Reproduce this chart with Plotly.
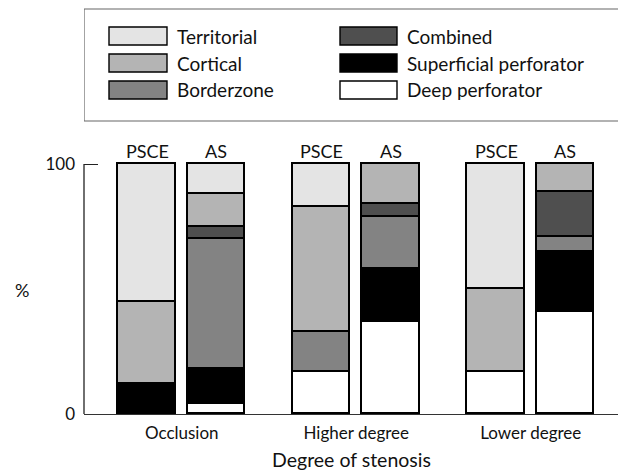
import plotly.graph_objects as go

groups = ["Occlusion", "Higher degree", "Lower degree"]
sources = ["PSCE", "AS"]
categories = ["Deep perforator", "Superficial perforator", "Borderzone", "Combined", "Cortical", "Territorial"]
# values per category, order: Occl PSCE, Occl AS, Higher PSCE, Higher AS, Lower PSCE, Lower AS
deep_perforator = [0, 4, 17, 37, 17, 41]
superficial_perforator = [12, 14, 0, 21, 0, 24]
borderzone = [0, 52, 16, 21, 0, 6]
combined = [0, 5, 0, 5, 0, 18]
cortical = [33, 13, 50, 16, 33, 11]
territorial = [55, 12, 17, 0, 50, 0]
series = [deep_perforator, superficial_perforator, borderzone, combined, cortical, territorial]
colors = ["#ffffff", "#000000", "#838383", "#4f4f4f", "#b4b4b4", "#e4e4e4"]
y_ticks = [0, 100]

FONT = "Lato"
W, H = 618, 471
L, R, T, B = 84, 0, 0, 57
# pixel helpers (layout only)
XPX = 174.5
X0 = 181.75
def px2x(px):
    return (px - X0) / XPX
def py2y(py):
    return (414 - py) / 2.5
def py2paper(py):
    return (414 - py) / 414.0

offset = 0.199
positions = []
for gi, g in enumerate(groups):
    for si, s in enumerate(sources):
        positions.append(gi + (-offset if si == 0 else offset))

fig = go.Figure()
for name, vals, col in zip(categories, series, colors):
    fig.add_trace(go.Bar(
        x=positions, y=vals, name=name, width=0.332,
        marker=dict(color=col, line=dict(color="#000000", width=1.6)),
        showlegend=False, hoverinfo="skip",
    ))

shapes = []
annotations = []
# y-axis bracket line
shapes.append(dict(type="line", xref="paper", yref="y", x0=0, x1=0, y0=0, y1=100,
                   line=dict(color="#222", width=1.3)))
# source labels
for i, p in enumerate(positions):
    annotations.append(dict(x=p, y=py2paper(151), xref="x", yref="paper", text=sources[i % 2],
                            xanchor="center", yanchor="middle",
                            showarrow=False, font=dict(size=18, color="#111", family=FONT)))
# % label
annotations.append(dict(x=(22 - L) / (W - L - R), y=py2paper(290), xref="paper", yref="paper", text="%",
                        xanchor="center", yanchor="middle",
                        showarrow=False, font=dict(size=18, color="#111", family=FONT)))
# x title
annotations.append(dict(x=0.5, y=py2paper(459), xref="paper", yref="paper", text="Degree of stenosis",
                        xanchor="center", yanchor="middle",
                        showarrow=False, font=dict(size=19.5, color="#111", family=FONT)))
# legend box
shapes.append(dict(type="rect", xref="x", yref="y", x0=px2x(84), x1=px2x(640),
                   y0=py2y(9), y1=py2y(121), line=dict(color="#666", width=1.2),
                   fillcolor="rgba(0,0,0,0)"))
legend_order = ["Territorial", "Cortical", "Borderzone", "Combined", "Superficial perforator", "Deep perforator"]
for k, name in enumerate(legend_order):
    col = colors[categories.index(name)]
    colx = 0 if k < 3 else 1
    row = k % 3
    sx0 = 109 if colx == 0 else 340
    sx1 = 167 if colx == 0 else 397
    cy = 36 + row * 27
    shapes.append(dict(type="rect", xref="x", yref="y", x0=px2x(sx0), x1=px2x(sx1),
                       y0=py2y(cy - 9), y1=py2y(cy + 9), fillcolor=col,
                       line=dict(color="#000", width=1.4)))
    annotations.append(dict(x=px2x(sx1 + 8), y=py2paper(cy), xref="x", yref="paper", text=name,
                            xanchor="left", yanchor="middle", showarrow=False,
                            font=dict(size=19, color="#111", family=FONT)))

fig.update_layout(
    width=W, height=H, margin=dict(l=L, r=R, t=T, b=B),
    barmode="stack", bargap=0,
    paper_bgcolor="white", plot_bgcolor="white",
    shapes=shapes, annotations=annotations,
    font=dict(family=FONT, color="#111"),
)
fig.update_xaxes(range=[px2x(84), px2x(618)], tickvals=[0, 1, 2], ticktext=groups,
                 showgrid=False, zeroline=False, showline=True, linecolor="#333", linewidth=1.2,
                 ticks="", ticklabelstandoff=3, tickfont=dict(size=17, family=FONT, color="#111"))
fig.update_yaxes(range=[0, py2y(0)], tickvals=y_ticks, ticktext=[str(v) for v in y_ticks],
                 showgrid=False, zeroline=False, showline=False,
                 ticks="inside", ticklen=14, tickcolor="#222", tickwidth=1.3,
                 ticklabelstandoff=8, tickfont=dict(size=17, family=FONT, color="#111"))

fig.write_html("out.html", config={"displayModeBar": False},
               post_script="document.body.style.margin='0';document.body.style.overflow='hidden';")
